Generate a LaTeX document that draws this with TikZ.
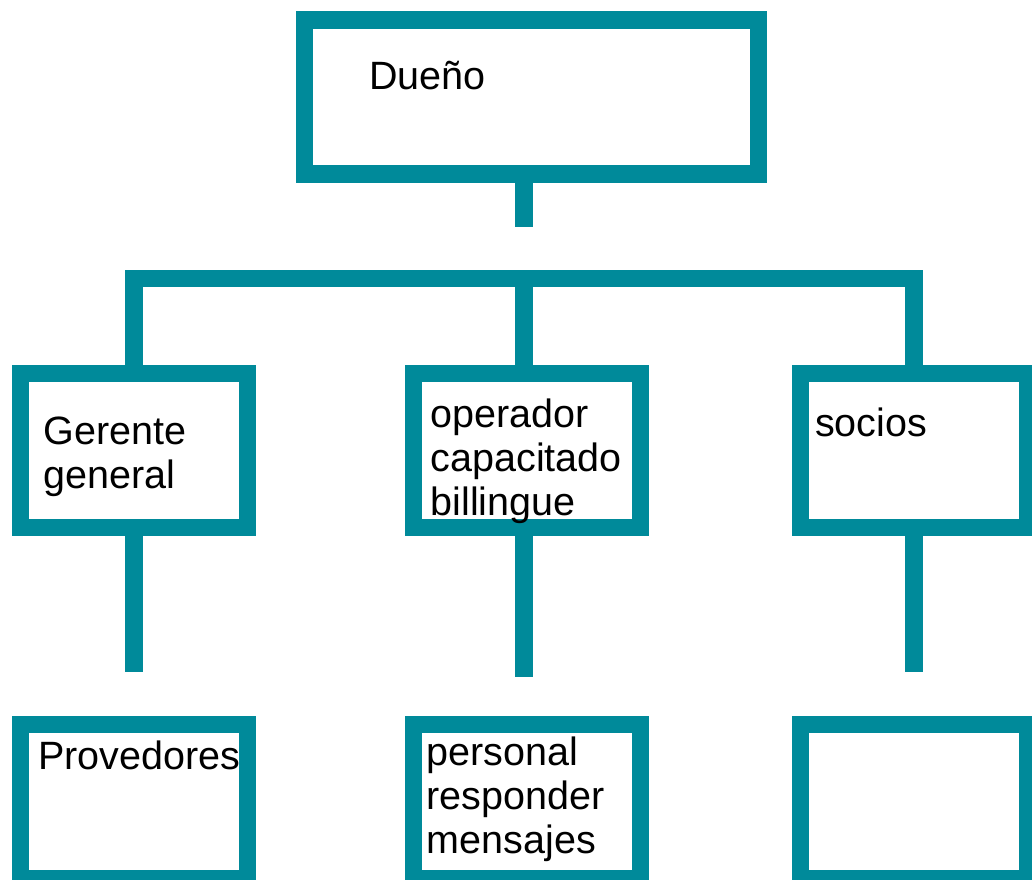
\documentclass[tikz,border=0pt]{standalone}
\usepackage{fontspec}
\setmainfont{Liberation Sans}
\definecolor{teal1}{HTML}{008A9A}
\begin{document}
\begin{tikzpicture}[x=1pt,y=-1pt,
  box/.style={draw=teal1,line width=17.5pt,fill=white,inner sep=0pt,minimum width=227pt,minimum height=154pt},
  conn/.style={draw=teal1,line width=17.5pt},
  lbl/.style={anchor=base west,inner sep=0pt,font=\fontsize{39.5}{44}\selectfont}]
\useasboundingbox (0,0) rectangle (1032,879);
% boxes
\node[box,minimum width=454.4pt] (top) at (531.5,97) {};
\node[box] (gg) at (133.75,450.5) {};
\node[box] (op) at (527,450.5) {};
\node[box,minimum width=227.2pt] (so) at (914.1,450.5) {};
\node[box] (pr) at (133.75,801.3) {};
\node[box] (pe) at (527,801.3) {};
\node[box,minimum width=227.2pt] (em) at (914,801.3) {};
% connector coordinates
\coordinate (stem) at (524,227.3);
\coordinate (bar) at (524,278.7);
\coordinate (d1) at (134,671.7);
\coordinate (d2) at (524,677);
\coordinate (d3) at (914,671.7);
% connectors
\draw[conn] (stem |- top.south) -- (stem);
\draw[conn] (gg.north) |- (bar) -| (so.north);
\draw[conn] (bar) -- (bar |- op.north);
\draw[conn] (gg.south -| d1) -- (d1);
\draw[conn] (op.south -| d2) -- (d2);
\draw[conn] (so.south -| d3) -- (d3);
% texts
\node[lbl] (tTop) at (369,89.3) {Dueño};
\node[lbl] (tGG) at (43.7,444) {\begin{tabular}[t]{@{}l@{}}Gerente\\general\end{tabular}};
\node[lbl] (tOp) at (430.5,427.6) {\begin{tabular}[t]{@{}l@{}}operador\\capacitado\\billingue\end{tabular}};
\node[lbl] (tSo) at (815,436.7) {socios};
\node[lbl] (tPr) at (38,769) {Provedores};
\node[lbl] (tPe) at (426.6,765) {\begin{tabular}[t]{@{}l@{}}personal\\responder\\mensajes\end{tabular}};
\end{tikzpicture}
\end{document}
